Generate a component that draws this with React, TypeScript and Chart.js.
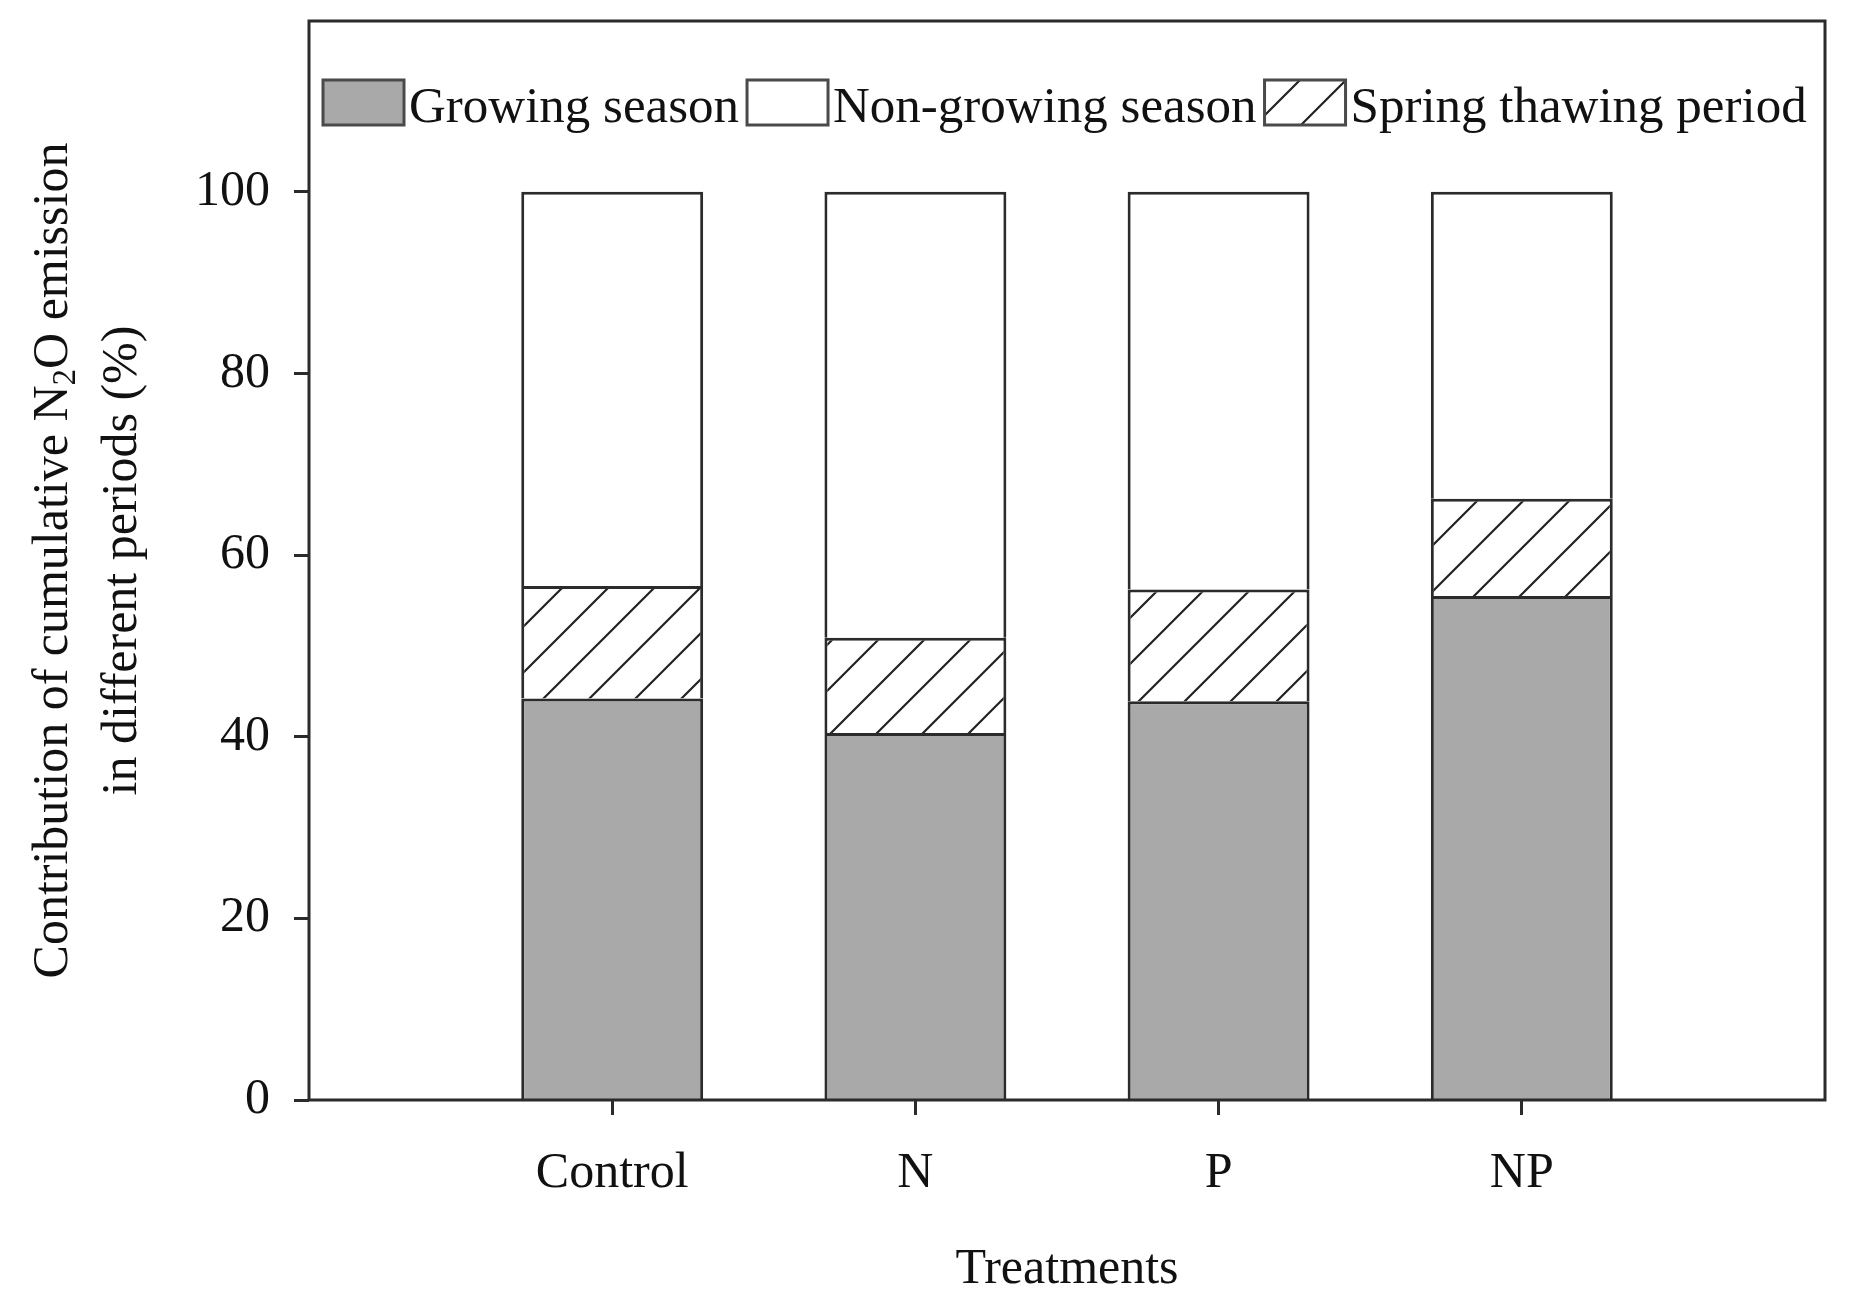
import React, { useEffect, useRef } from 'react';
import { Chart, registerables } from 'chart.js';

Chart.register(...registerables);

// ---- data ----
const categories = ['Control', 'N', 'P', 'NP'];
const growingSeason = [44.2, 40.4, 43.9, 55.5];
const springThawingPeriod = [12.4, 10.5, 12.3, 10.7];
const nonGrowingSeason = [43.4, 49.1, 43.8, 33.8];
const yTickValues = [0, 20, 40, 60, 80, 100];
const legendOrder = ['Growing season', 'Non-growing season', 'Spring thawing period'];
const xTitle = 'Treatments';
const yTitleLine1 = ['Contribution of cumulative N', '2', 'O emission'];
const yTitleLine2 = 'in different periods (%)';

const FONT = "'Liberation Serif', 'Times New Roman', serif";
const LINE = '#2b2b2b';
const TEXT = '#111111';
const GRAY = '#a9a9a9';

function makeHatch(): CanvasPattern | string {
  const s = 46;
  const c = document.createElement('canvas');
  c.width = s;
  c.height = s;
  const g = c.getContext('2d');
  if (!g) return '#fff';
  g.fillStyle = '#ffffff';
  g.fillRect(0, 0, s, s);
  g.strokeStyle = '#222222';
  g.lineWidth = 2.2;
  g.beginPath();
  g.moveTo(0, s);
  g.lineTo(s, 0);
  g.moveTo(-3, 3);
  g.lineTo(3, -3);
  g.moveTo(s - 3, s + 3);
  g.lineTo(s + 3, s - 3);
  g.stroke();
  const p = g.createPattern(c, 'repeat');
  return p || '#fff';
}

const pad = (arr: number[]) => [null, ...arr, null];

export default function App() {
  const ref = useRef<HTMLCanvasElement | null>(null);

  useEffect(() => {
    const canvas = ref.current;
    if (!canvas) return;
    const hatch = makeHatch();
    const labels = ['', ...categories, ''];

    const framePlugin = {
      id: 'frame',
      afterDatasetsDraw(chart: any) {
        const { ctx, chartArea: a } = chart;
        ctx.save();
        ctx.strokeStyle = LINE;
        ctx.lineWidth = 3;
        ctx.strokeRect(a.left, a.top, a.right - a.left, a.bottom - a.top);
        ctx.restore();
      },
    };

    const legendPlugin = {
      id: 'customLegend',
      afterDraw(chart: any) {
        const { ctx } = chart;
        const sets = chart.data.datasets;
        ctx.save();
        ctx.font = `51px ${FONT}`;
        ctx.textBaseline = 'alphabetic';
        ctx.textAlign = 'left';
        let x = 323;
        const top = 80;
        const bw = 81;
        const bh = 45;
        legendOrder.forEach((name) => {
          const ds = sets.find((d: any) => d.label === name);
          ctx.fillStyle = ds.backgroundColor;
          ctx.fillRect(x, top, bw, bh);
          ctx.strokeStyle = '#4a4a4a';
          ctx.lineWidth = 3;
          ctx.strokeRect(x, top, bw, bh);
          x += bw + 5;
          ctx.fillStyle = TEXT;
          ctx.fillText(name, x, 122);
          x += ctx.measureText(name).width + 8;
        });
        ctx.restore();
      },
    };

    const yTitlePlugin = {
      id: 'yTitle',
      afterDraw(chart: any) {
        const { ctx, chartArea: a } = chart;
        const cy = (a.top + a.bottom) / 2;
        ctx.save();
        ctx.fillStyle = TEXT;
        ctx.textBaseline = 'middle';
        ctx.textAlign = 'left';
        ctx.save();
        ctx.translate(54, cy);
        ctx.rotate(-Math.PI / 2);
        const big = `50px ${FONT}`;
        const small = `33px ${FONT}`;
        const widths = yTitleLine1.map((t, i) => {
          ctx.font = i === 1 ? small : big;
          return ctx.measureText(t).width;
        });
        const total = widths.reduce((s, w) => s + w, 0);
        let x = -total / 2;
        yTitleLine1.forEach((t, i) => {
          ctx.font = i === 1 ? small : big;
          ctx.fillText(t, x, i === 1 ? 12 : 0);
          x += widths[i];
        });
        ctx.restore();
        ctx.save();
        ctx.translate(123, cy);
        ctx.rotate(-Math.PI / 2);
        ctx.font = big;
        ctx.textAlign = 'center';
        ctx.fillText(yTitleLine2, 0, 0);
        ctx.restore();
        ctx.restore();
      },
    };

    const common = {
      borderColor: LINE,
      borderWidth: 3,
      borderSkipped: 'start' as const,
      stack: 'periods',
      barPercentage: 0.6,
      categoryPercentage: 1.0,
    };

    const chart = new Chart(canvas, {
      type: 'bar',
      data: {
        labels,
        datasets: [
          { label: 'Growing season', data: pad(growingSeason), backgroundColor: GRAY, ...common },
          { label: 'Spring thawing period', data: pad(springThawingPeriod), backgroundColor: hatch as any, ...common },
          { label: 'Non-growing season', data: pad(nonGrowingSeason), backgroundColor: '#ffffff', ...common },
        ],
      },
      options: {
        responsive: false,
        animation: false,
        devicePixelRatio: 1,
        layout: { padding: { left: 0, right: 43, top: 21, bottom: 0 } },
        plugins: {
          legend: { display: false },
          tooltip: { enabled: false },
          title: { display: false },
        },
        scales: {
          x: {
            type: 'category',
            offset: false,
            stacked: true,
            border: { display: false },
            grid: {
              display: true,
              offset: false,
              drawOnChartArea: false,
              drawTicks: true,
              tickLength: 15,
              tickWidth: 3,
              tickColor: (ctx: any) =>
                ctx.index === 0 || ctx.index === labels.length - 1 ? 'rgba(0,0,0,0)' : LINE,
            },
            ticks: {
              color: TEXT,
              font: { family: FONT, size: 50 },
              padding: 29,
              autoSkip: false,
              maxRotation: 0,
              minRotation: 0,
            },
            title: {
              display: true,
              text: xTitle,
              color: TEXT,
              font: { family: FONT, size: 50 },
              padding: { top: 0, bottom: 4 },
            },
            afterFit: (scale: any) => {
              scale.height = 204;
              scale.paddingLeft = 0;
              scale.paddingRight = 0;
            },
          },
          y: {
            type: 'linear',
            stacked: true,
            min: 0,
            max: 118.8,
            border: { display: false },
            grid: {
              display: true,
              drawOnChartArea: false,
              drawTicks: true,
              tickLength: 15,
              tickWidth: 3,
              tickColor: LINE,
            },
            afterBuildTicks: (scale: any) => {
              scale.ticks = yTickValues.map((v) => ({ value: v }));
            },
            ticks: {
              color: TEXT,
              font: { family: FONT, size: 50 },
              padding: 24,
              includeBounds: false,
            },
            afterFit: (scale: any) => {
              scale.width = 309;
              scale.paddingTop = 0;
              scale.paddingBottom = 0;
            },
          },
        },
      },
      plugins: [framePlugin, legendPlugin, yTitlePlugin],
    });

    return () => {
      chart.destroy();
    };
  }, []);

  return (
    <div style={{ position: 'absolute', left: 0, top: 0, width: 1868, height: 1304, background: '#ffffff' }}>
      <canvas ref={ref} width={1868} height={1304} style={{ display: 'block', width: 1868, height: 1304 }} />
    </div>
  );
}
